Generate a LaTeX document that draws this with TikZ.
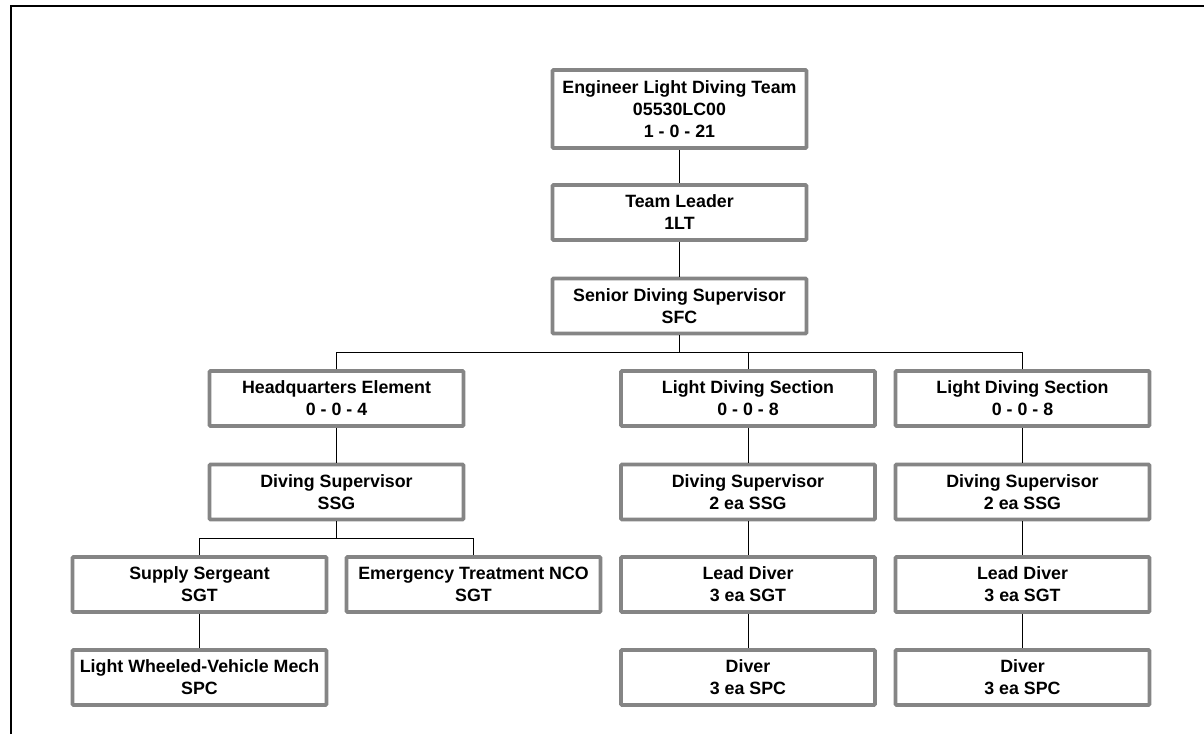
\documentclass[tikz,border=0pt]{standalone}
\usepackage{fontspec}
\setmainfont{Liberation Sans}
\begin{document}
\begin{tikzpicture}[x=1pt,y=-1pt,
  orgbox/.style={draw=boxgray, line width=3.6pt, rounded corners=1pt, fill=white,
    minimum width=254pt, minimum height=55pt, inner sep=0pt, align=center,
    font=\fontsize{17.8}{22}\selectfont\bfseries},
  link/.style={draw=black, line width=1pt}]
\definecolor{boxgray}{HTML}{858585}
\useasboundingbox (0,0) rectangle (1204,734);
\draw[line width=2pt] (11,734) -- (11,6) -- (1204,6);

\node[orgbox, minimum height=78pt] (top) at (679.5,109) {Engineer Light Diving Team\\05530LC00\\1 - 0 - 21};
\node[orgbox] (tl) at (679.5,212.5) {Team Leader\\1LT};
\node[orgbox] (sds) at (679.5,306) {Senior Diving Supervisor\\SFC};

\node[orgbox] (hq) at (336.5,398.5) {Headquarters Element\\0 - 0 - 4};
\node[orgbox] (lds1) at (748,398.5) {Light Diving Section\\0 - 0 - 8};
\node[orgbox] (lds2) at (1022.5,398.5) {Light Diving Section\\0 - 0 - 8};

\node[orgbox] (ds0) at (336.5,492) {Diving Supervisor\\SSG};
\node[orgbox] (ds1) at (748,492) {Diving Supervisor\\2 ea SSG};
\node[orgbox] (ds2) at (1022.5,492) {Diving Supervisor\\2 ea SSG};

\node[orgbox] (ss) at (199.5,584.5) {Supply Sergeant\\SGT};
\node[orgbox] (etn) at (473.5,584.5) {Emergency Treatment NCO\\SGT};
\node[orgbox] (ld1) at (748,584.5) {Lead Diver\\3 ea SGT};
\node[orgbox] (ld2) at (1022.5,584.5) {Lead Diver\\3 ea SGT};

\node[orgbox] (lw) at (199.5,677.5) {Light Wheeled-Vehicle Mech\\SPC};
\node[orgbox] (d1) at (748,677.5) {Diver\\3 ea SPC};
\node[orgbox] (d2) at (1022.5,677.5) {Diver\\3 ea SPC};

\coordinate (j1) at (679.5,352.5);
\coordinate (j2) at (336.5,538);

\begin{scope}[on background layer/.try]
\end{scope}
\draw[link] (top.south) -- (tl.north);
\draw[link] (tl.south) -- (sds.north);
\draw[link] (sds.south) -- (j1);
\draw[link] (hq.north) |- (j1);
\draw[link] (lds1.north) |- (j1);
\draw[link] (lds2.north) |- (j1);
\draw[link] (hq.south) -- (ds0.north);
\draw[link] (lds1.south) -- (ds1.north);
\draw[link] (lds2.south) -- (ds2.north);
\draw[link] (ds0.south) -- (j2);
\draw[link] (ss.north) |- (j2);
\draw[link] (etn.north) |- (j2);
\draw[link] (ds1.south) -- (ld1.north);
\draw[link] (ds2.south) -- (ld2.north);
\draw[link] (ss.south) -- (lw.north);
\draw[link] (ld1.south) -- (d1.north);
\draw[link] (ld2.south) -- (d2.north);
\end{tikzpicture}
\end{document}
